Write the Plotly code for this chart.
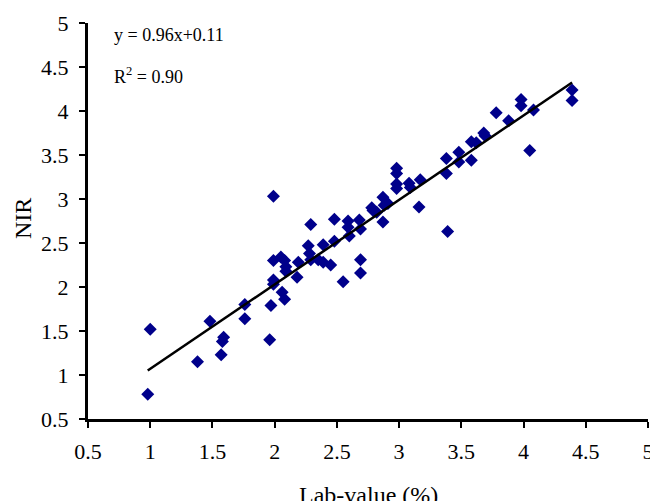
import plotly.graph_objects as go

lab_value = [1.00, 0.98, 1.38, 1.48, 1.59, 1.58, 1.57, 1.76, 1.76, 1.96,
             1.97, 1.99, 1.99, 1.99, 1.99, 2.05, 2.08, 2.09, 2.09, 2.06,
             2.08, 2.18, 2.19, 2.27, 2.28, 2.29, 2.29, 2.35, 2.39, 2.39,
             2.45, 2.48, 2.48, 2.55, 2.59, 2.59, 2.60, 2.68, 2.69, 2.69,
             2.69, 2.78, 2.79, 2.82, 2.87, 2.88, 2.87, 2.91, 2.98, 2.98,
             2.98, 2.98, 3.08, 3.09, 3.17, 3.16, 3.38, 3.38, 3.39, 3.48,
             3.48, 3.58, 3.62, 3.58, 3.68, 3.69, 3.78, 3.88, 3.98, 3.98,
             4.08, 4.05, 4.39, 4.39]
nir_value = [1.52, 0.78, 1.15, 1.61, 1.43, 1.38, 1.23, 1.80, 1.64, 1.40,
             1.79, 2.08, 2.03, 2.30, 3.03, 2.34, 2.30, 2.23, 2.18, 1.94,
             1.86, 2.11, 2.28, 2.47, 2.38, 2.31, 2.71, 2.31, 2.48, 2.28,
             2.25, 2.52, 2.77, 2.06, 2.75, 2.68, 2.58, 2.76, 2.66, 2.31,
             2.16, 2.90, 2.87, 2.85, 3.02, 2.93, 2.74, 2.95, 3.35, 3.29,
             3.17, 3.12, 3.18, 3.13, 3.22, 2.91, 3.46, 3.29, 2.63, 3.53,
             3.42, 3.65, 3.64, 3.44, 3.75, 3.72, 3.98, 3.89, 4.13, 4.06,
             4.01, 3.55, 4.24, 4.12]

slope = 0.96
intercept = 0.11
equation_label = "y = 0.96x+0.11"
r2_label = "R<sup>2</sup> = 0.90"
x_title = "Lab-value (%)"
y_title = "NIR"
tick_values = [0.5, 1, 1.5, 2, 2.5, 3, 3.5, 4, 4.5, 5]

x_fit = [min(lab_value), max(lab_value)]
y_fit = [slope * v + intercept for v in x_fit]

font_family = "Liberation Serif, Times New Roman, serif"

fig = go.Figure()
fig.add_trace(go.Scatter(
    x=lab_value, y=nir_value, mode="markers",
    marker=dict(symbol="diamond", size=10, color="#00008b"),
    showlegend=False,
))
fig.add_trace(go.Scatter(
    x=x_fit, y=y_fit, mode="lines",
    line=dict(color="black", width=2.5),
    showlegend=False,
))

axis_common = dict(
    range=[0.5, 5], tickvals=tick_values, showgrid=False, zeroline=False,
    showline=True, linecolor="black", linewidth=3, automargin=False,
    ticks="outside", ticklen=6, tickwidth=2, tickcolor="black",
    ticklabeloverflow="allow",
    tickfont=dict(family=font_family, size=22, color="black"),
)

fig.update_xaxes(**axis_common, ticklabelstandoff=5)
fig.update_yaxes(**axis_common, ticklabelstandoff=6)

fig.add_annotation(x=0.5, y=-0.192, xref="paper", yref="paper", text=x_title,
                   showarrow=False, xanchor="center", yanchor="middle",
                   font=dict(family=font_family, size=24, color="black"))
fig.add_annotation(x=-0.116, y=0.505, xref="paper", yref="paper", text=y_title,
                   showarrow=False, xanchor="center", yanchor="middle",
                   textangle=-90,
                   font=dict(family=font_family, size=24, color="black"))

fig.add_annotation(x=0.69, y=4.86, xref="x", yref="y", text=equation_label,
                   showarrow=False, xanchor="left", yanchor="middle",
                   font=dict(family=font_family, size=18, color="black"))
fig.add_annotation(x=0.69, y=4.40, xref="x", yref="y", text=r2_label,
                   showarrow=False, xanchor="left", yanchor="middle",
                   font=dict(family=font_family, size=18, color="black"))

fig.update_layout(
    width=650, height=501,
    margin=dict(l=88, r=2, t=23, b=82),
    plot_bgcolor="white", paper_bgcolor="white",
)

# Remove the default page margin so the figure fills the window exactly.
fig.write_html("out.html",
               config={"displayModeBar": False},
               post_script="document.body.style.margin='0';"
                           "document.body.style.overflow='hidden';")
